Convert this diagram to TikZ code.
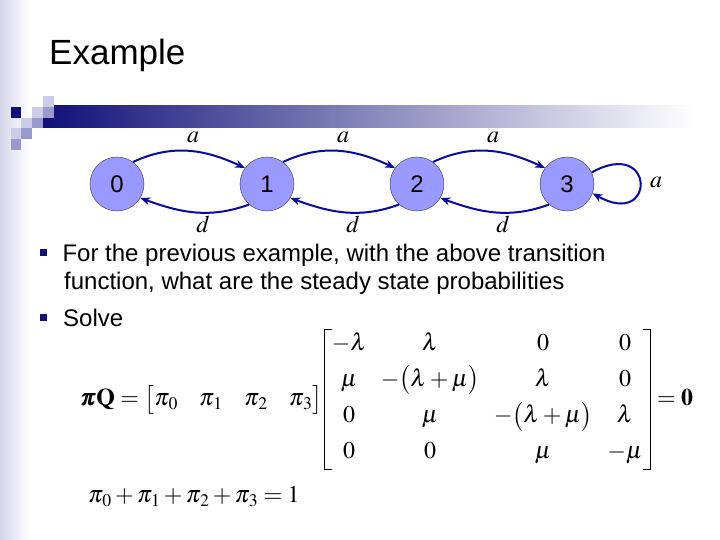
\documentclass[tikz,border=0pt]{standalone}
\usepackage{amsmath}
\usepackage{mathptmx}
\usepackage{bm}
\usepackage[no-math]{fontspec}
\setmainfont{Liberation Sans}
\usetikzlibrary{arrows.meta,matrix}
\definecolor{navy}{RGB}{16,16,120}
\definecolor{lavlight}{RGB}{204,204,230}
\definecolor{lavmid}{RGB}{153,153,204}
\definecolor{peri}{RGB}{153,153,255}
\definecolor{arcblue}{RGB}{10,10,160}
\newcommand{\pisub}[1]{\pi_{\mkern1mu #1}}
\tikzset{
  state/.style={draw=black!80,circle,minimum size=54pt,inner sep=0pt,fill=peri,font=\fontsize{24}{24}\selectfont},
  trans/.style={draw=arcblue,line width=2pt,-{Stealth[length=10pt,width=8pt]}},
  lbl/.style={inner sep=0pt,font=\fontsize{24}{24}\selectfont},
  body/.style={anchor=base west,inner sep=0pt,font=\fontsize{24}{28.8}\selectfont},
  eq/.style={anchor=base west,inner sep=0pt,font=\fontsize{24}{28.8}\selectfont},
  bullet/.style={fill=navy,minimum size=7pt,inner sep=0pt}
}

\begin{document}
\begin{tikzpicture}[x=1pt,y=1pt]
  \useasboundingbox (0,0) rectangle (720,540);
  % slide decoration
  \shade[left color=lavlight!80,right color=white] (0,0) rectangle (30,540);
  \shade[left color=navy,right color=white] (43,412) rectangle (695,434);
  \foreach \c/\r/\col in {3/0/lavlight,0/1/navy,2/1/lavlight,3/1/lavmid,1/2/lavlight,
                          2/2/lavmid,0/3/lavlight,1/3/lavmid,0/4/lavmid}
    \fill[\col] (10.5+10.8*\c,444-10.8*\r) rectangle ++(10.8,-10.8);
  \node[anchor=base west,inner sep=0pt,font=\fontsize{35}{35}\selectfont] (title) at (49,475.7) {Example};

  % chain
  \foreach \i in {0,...,3}
    \node[state] (s\i) at (117+150*\i,356) {\i};
  \foreach \i [count=\j] in {0,1,2} {
    \draw[trans] (s\i.54) to[out=25,in=155] (s\j.144);
    \draw[trans] (s\j.229) to[out=200,in=-20] (s\i.-31);
    \node[lbl] (a\i) at (193+150*\i,403) {$a$};
    \node[lbl] (d\i) at (203+150*\i,316) {$d$};
  }
  \draw[trans] (s3.25) .. controls +(64,36) and +(64,-36) .. (s3.-20);
  \node[lbl] (a3) at (656,358) {$a$};

  % bullets
  \node[bullet] (b1) at (43.5,287.5) {};
  \node[body] (l1) at (62.3,278) {For the previous example, with the above transition};
  \node[body] (l2) at (64,250) {function, what are the steady state probabilities};
  \node[bullet] (b2) at (43.5,222) {};
  \node[body] (l3) at (63,213) {Solve};

  % equations
  \node[eq] (lhs) at (80,134) {$\bm{\pi}\mathbf{Q}=\bigl[\pisub0\mkern16mu\pisub1\mkern16mu\pisub2\mkern16mu\pisub3\bigr]$};
  \matrix (Q) [matrix of math nodes,inner sep=0pt,column sep=0pt,row sep=0pt,
    nodes={anchor=center,inner sep=0pt,minimum height=36.3pt,text height=16pt,text depth=5pt,
           font=\fontsize{24}{28.8}\selectfont},
    column 1/.style={nodes={minimum width=49pt}},
    column 2/.style={nodes={minimum width=113pt}},
    column 3/.style={nodes={minimum width=113pt}},
    column 4/.style={nodes={minimum width=51pt}}] at (487.5,141) {
    -\lambda & \lambda & 0 & 0 \\
    \mu & -\bigl(\lambda+\mu\bigr) & \lambda & 0 \\
    0 & \mu & -\bigl(\lambda+\mu\bigr) & \lambda \\
    0 & 0 & \mu & -\mu \\
  };
  \draw[line width=0.8pt] ([xshift=8pt,yshift=-3pt]Q.north west) -| ([yshift=2pt]Q.south west) -- ++(8,0);
  \draw[line width=0.8pt] ([xshift=-8pt,yshift=-3pt]Q.north east) -| ([yshift=2pt]Q.south east) -- ++(-8,0);
  \node[eq] (rhs) at (657,134) {$=\mathbf{0}$};
  \node[eq] (sum) at (88,37) {$\pisub0+\pisub1+\pisub2+\pisub3=1$};
\end{tikzpicture}
\end{document}
